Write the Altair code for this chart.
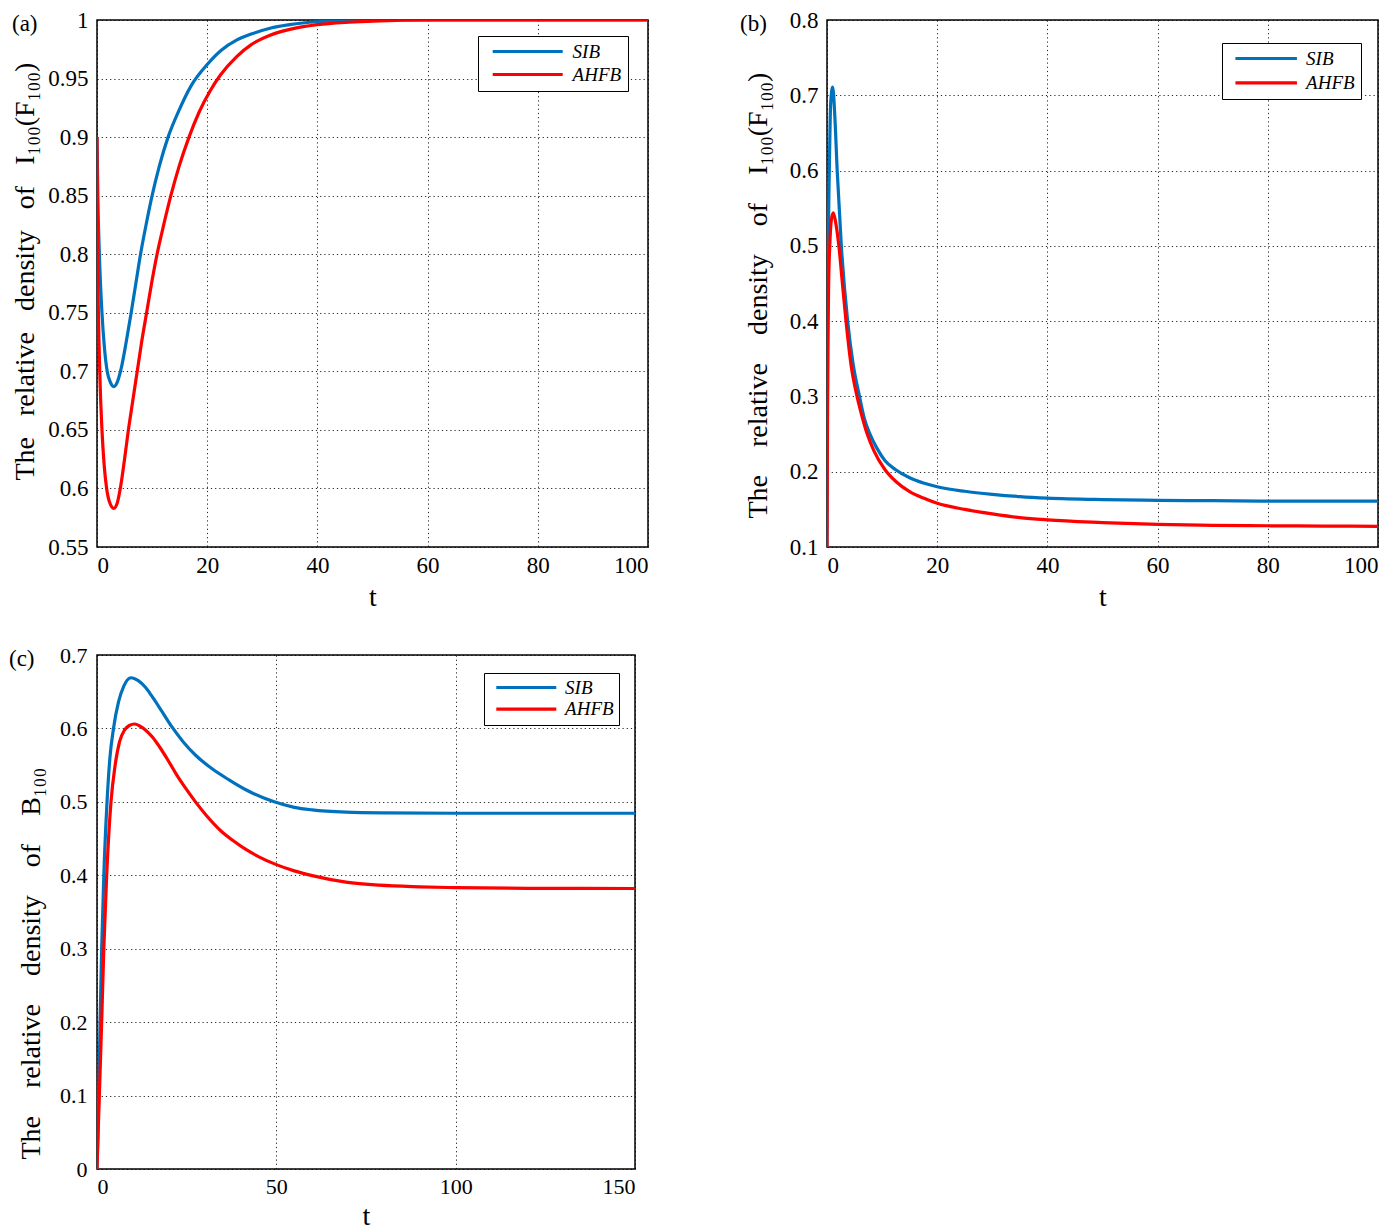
import altair as alt
import pandas as pd

# ---------------- data ----------------
SERIES = ["SIB", "AHFB"]
COLORS = ["#0072BD", "#FF0000"]

# panel (a): I100(F100)
A_T_SIB = [0, 0.15, 0.43, 0.9, 1.35, 1.85, 2.4, 3.04, 3.7, 4.37, 5.3, 6.2, 7.05, 7.9, 8.9, 10.0,
           11.3, 12.9, 14.8, 17.1, 20, 22.5, 25.4, 28, 31.4, 35, 40, 45, 50, 60, 80, 100]
A_V_SIB = [0.9, 0.85, 0.8, 0.75, 0.72, 0.70, 0.691, 0.687, 0.691, 0.702, 0.725, 0.75, 0.775, 0.80,
           0.825, 0.85, 0.875, 0.90, 0.922, 0.944, 0.962, 0.974, 0.983, 0.988, 0.993, 0.996, 0.9985,
           0.9995, 1.0, 1.0, 1.0, 1.0]
A_T_AHFB = [0, 0.12, 0.5, 0.9, 1.3, 1.75, 2.3, 3.04, 3.7, 4.3, 5.0, 5.7, 6.5, 7.3, 8.1, 9.0, 9.9,
            10.9, 12.1, 13.4, 14.9, 16.7, 18.5, 20.6, 22.4, 25.4, 28, 31.4, 35, 40, 45, 50, 60, 80, 100]
A_V_AHFB = [0.9, 0.8, 0.7, 0.65, 0.62, 0.60, 0.588, 0.583, 0.588, 0.602, 0.625, 0.65, 0.675, 0.70,
            0.725, 0.75, 0.775, 0.80, 0.825, 0.85, 0.875, 0.90, 0.921, 0.94, 0.953, 0.969, 0.979,
            0.987, 0.992, 0.996, 0.998, 0.999, 1.0, 1.0, 1.0]

# panel (b): I100(F100)
B_T_SIB = [0, 0.06, 0.12, 0.25, 0.42, 0.67, 1.03, 1.4, 1.85, 2.6, 3.75, 4.7, 5.9, 6.8, 7.8, 9.0,
           10.5, 12.4, 15, 17.5, 20, 25, 30, 35, 40, 50, 60, 70, 80, 90, 100]
B_V_SIB = [0.1, 0.25, 0.4, 0.52, 0.6, 0.69, 0.711, 0.675, 0.6, 0.5, 0.4, 0.345, 0.3, 0.27, 0.25,
           0.232, 0.215, 0.203, 0.192, 0.185, 0.18, 0.174, 0.17, 0.167, 0.165, 0.163, 0.162, 0.1615,
           0.161, 0.161, 0.161]
B_T_AHFB = [0, 0.08, 0.16, 0.3, 0.5, 0.8, 1.15, 1.6, 2.15, 2.8, 3.45, 4.4, 5.45, 6.3, 7.3, 8.5,
            10.5, 12.5, 15, 17.5, 20, 25, 30, 35, 40, 50, 60, 70, 80, 90, 100]
B_V_AHFB = [0.1, 0.25, 0.36, 0.45, 0.5, 0.535, 0.544, 0.53, 0.5, 0.45, 0.4, 0.34, 0.3, 0.275, 0.25,
            0.228, 0.203, 0.187, 0.1735, 0.165, 0.158, 0.15, 0.144, 0.139, 0.136, 0.1325, 0.130,
            0.1288, 0.1282, 0.1278, 0.1275]

# panel (c): B100
C_T_SIB = [0, 0.5, 0.85, 1.3, 1.9, 2.8, 3.6, 4.6, 6.0, 7.5, 9.5, 11.5, 13.5, 15.3, 18, 20.9, 24,
           27.5, 32.1, 36.8, 41.5, 49.4, 55, 60, 69.4, 80, 100, 120, 150]
C_V_SIB = [0, 0.1, 0.2, 0.3, 0.4, 0.5, 0.56, 0.6, 0.636, 0.658, 0.669, 0.665, 0.656, 0.644, 0.624,
           0.602, 0.582, 0.5635, 0.545, 0.53, 0.5165, 0.5, 0.4925, 0.489, 0.486, 0.485, 0.4845,
           0.4845, 0.4845]
C_T_AHFB = [0, 0.65, 1.3, 1.9, 2.7, 3.9, 5.0, 6.3, 7.7, 9.0, 10.5, 12, 13.5, 15.5, 17.7, 20, 22.3,
            24.8, 27.3, 30.5, 34.5, 38, 41.4, 45, 50, 55, 60, 69.4, 78.7, 90, 100, 120, 150]
C_V_AHFB = [0, 0.1, 0.2, 0.3, 0.4, 0.5, 0.548, 0.582, 0.598, 0.604, 0.606, 0.603, 0.598, 0.588,
            0.573, 0.555, 0.536, 0.518, 0.501, 0.4815, 0.4607, 0.447, 0.4355, 0.4255, 0.4145, 0.406,
            0.3995, 0.3907, 0.3865, 0.3843, 0.3832, 0.3822, 0.382]

A_XTICKS = [0, 20, 40, 60, 80, 100]
A_YTICKS = [0.55, 0.6, 0.65, 0.7, 0.75, 0.8, 0.85, 0.9, 0.95, 1.0]
B_XTICKS = [0, 20, 40, 60, 80, 100]
B_YTICKS = [0.1, 0.2, 0.3, 0.4, 0.5, 0.6, 0.7, 0.8]
C_XTICKS = [0, 50, 100, 150]
C_YTICKS = [0, 0.1, 0.2, 0.3, 0.4, 0.5, 0.6, 0.7]

WORDS_I = ["The", "relative", "density", "of", "I\u2081\u2080\u2080(F\u2081\u2080\u2080)"]
WORDS_B = ["The", "relative", "density", "of", "B\u2081\u2080\u2080"]

FONT = "Liberation Serif"


def spaced(words, n_nbsp):
    return ("\u00a0" * n_nbsp + " ").join(words)


def frame(t, v, name):
    return pd.DataFrame({"t": t, "v": v, "s": name})


def panel(sib, ahfb, xdom, xvals, ydom, yvals, ytitle, title_y, lab, lab_x, lab_y, w, h, leg,
          ytp, tick_fs, ylp, xtp):
    color = alt.Color(
        "s:N",
        scale=alt.Scale(domain=SERIES, range=COLORS),
        legend=alt.Legend(
            title=None, orient="none", legendX=leg["x"], legendY=leg["y"],
            symbolType=leg["path"], symbolSize=196, symbolStrokeWidth=3.2,
            symbolOffset=leg["so"], labelOffset=leg["lo"], padding=leg["p"],
            rowPadding=leg["r"], strokeColor="black", fillColor="white",
            labelFont=FONT, labelFontStyle="italic", labelFontSize=19,
            labelColor="black", labelExpr=leg["expr"], cornerRadius=0,
        ),
    )
    x = alt.X(
        "t:Q",
        scale=alt.Scale(domain=xdom, nice=False, zero=False),
        axis=alt.Axis(
            values=xvals, format=".2~f", grid=True, gridColor="black", gridDash=[1.2, 3],
            gridOpacity=0.85, domain=False, ticks=False, labelFont=FONT,
            labelFontSize=tick_fs, labelColor="black", labelPadding=7,
            title="t", titleFont=FONT, titleFontSize=28, titleFontWeight="normal",
            titleColor="black", titlePadding=xtp,
        ),
    )
    y = alt.Y(
        "v:Q",
        scale=alt.Scale(domain=ydom, nice=False, zero=False),
        axis=alt.Axis(
            values=yvals, format=".2~f", grid=True, gridColor="black", gridDash=[1.2, 3],
            gridOpacity=0.85, domain=False, ticks=False, labelFont=FONT,
            labelFontSize=tick_fs, labelColor="black", labelPadding=ylp,
            title=ytitle, titleFont=FONT, titleFontSize=28, titleFontWeight="normal",
            titleColor="black", titlePadding=ytp, titleY=title_y, titleAlign="left",
        ),
    )
    l1 = alt.Chart(sib).mark_line(strokeWidth=3.2, interpolate="monotone", clip=True).encode(
        x=x, y=y, color=color)
    l2 = alt.Chart(ahfb).mark_line(strokeWidth=3.2, interpolate="monotone", clip=True).encode(
        x=x, y=y, color=color)
    txt = alt.Chart(pd.DataFrame({"lab": [lab]})).mark_text(
        align="left", baseline="top", font=FONT, fontSize=23, color="black"
    ).encode(text="lab:N", x=alt.value(lab_x), y=alt.value(lab_y))
    return alt.layer(l1, l2, txt).properties(width=w, height=h)


pa = panel(
    frame(A_T_SIB, A_V_SIB, "SIB"), frame(A_T_AHFB, A_V_AHFB, "AHFB"),
    [0, 100], A_XTICKS, [0.55, 1.0], A_YTICKS, spaced(WORDS_I, 2), 460, "(a)", -85, -7, 551, 527,
    dict(x=381, y=16, path="M-1,0H9", so=6.2, lo=63.4, p=6, r=3,
         expr="datum.label + '\u00a0\u00a0'"),
    ytp=8, tick_fs=23, ylp=9, xtp=6,
)
pb = panel(
    frame(B_T_SIB, B_V_SIB, "SIB"), frame(B_T_AHFB, B_V_AHFB, "AHFB"),
    [0, 100], B_XTICKS, [0.1, 0.8], B_YTICKS, spaced(WORDS_I, 3), 498, "(b)", -87, -7, 551, 527,
    dict(x=395, y=23, path="M-1,0H7.79", so=4.9, lo=54.2, p=6, r=4.3,
         expr="datum.label"),
    ytp=17, tick_fs=23, ylp=9, xtp=6,
)
pc = panel(
    frame(C_T_SIB, C_V_SIB, "SIB"), frame(C_T_AHFB, C_V_AHFB, "AHFB"),
    [0, 150], C_XTICKS, [0, 0.7], C_YTICKS, spaced(WORDS_B, 3), 504, "(c)", -88, -7, 538, 514,
    dict(x=387, y=18, path="M-1,0H7.57", so=4.8, lo=52.3, p=5, r=1.7,
         expr="datum.label"),
    ytp=14, tick_fs=22, ylp=10, xtp=5,
)

chart = (
    alt.concat(pa, pb, pc, columns=2, spacing={"row": 31, "column": 90}, align="none")
    .resolve_scale(color="independent")
    .resolve_legend(color="independent")
    .properties(padding=0)
    .configure(background="white", font=FONT)
    .configure_view(stroke="black", strokeWidth=1.5)
    .configure_axis(labelFont=FONT, titleFont=FONT)
    .configure_legend(labelFont=FONT)
    .configure_text(font=FONT)
)

chart.save("out.html", embed_options={"renderer": "svg", "actions": False})
